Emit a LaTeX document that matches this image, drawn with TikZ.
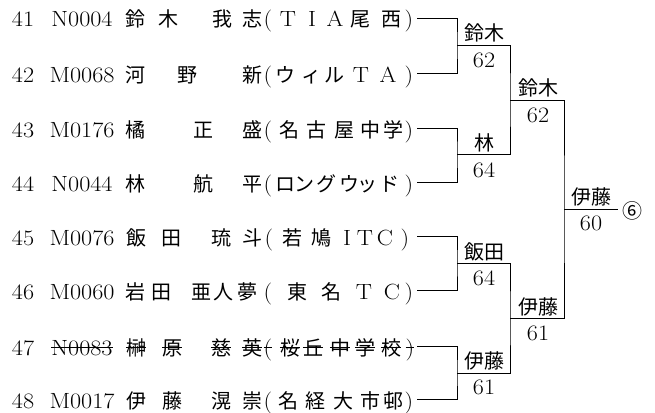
\documentclass[tikz,border=0pt]{standalone}
\usepackage{graphicx}
\usepackage{fontspec}
\newfontfamily\jp{Noto Sans CJK JP}
\newcommand\widenit[1]{\scalebox{1.1}[1]{#1}}
\tikzset{
  t/.style={inner sep=0pt, text height=16pt, text depth=0pt, anchor=center},
  jt/.style={t, font=\fontsize{20}{24}\selectfont\jp},
  lt/.style={t, font=\fontsize{22}{24}\selectfont},
  br/.style={line width=0.9pt},
  strk/.style={line width=0.8pt}
}
\newcommand\jrow[2]{\foreach \xx/\cc in {#2}{\node[jt] (j\xx-#1) at (\xx,#1) {\cc};}}
\newcommand\lrow[2]{\foreach \xx/\cc in {#2}{\node[lt] (l\xx-#1) at (\xx,#1) {\widenit{\cc}};}}
\begin{document}
\begin{tikzpicture}[x=1pt,y=-1pt]
\fill[white] (0,0) rectangle (655,412);
\useasboundingbox (0,0) rectangle (655,412);
% row 41
\lrow{19}{23/41, 82/N0004, 268/(, 288/T, 312/I, 335/A, 409/)}
\jrow{19}{135/鈴, 168/木, 222/我, 252/志, 360/尾, 391/西}
% row 42
\lrow{74}{23/42, 82/M0068, 268/(, 361/T, 388/A, 409/)}
\jrow{74}{135/河, 187/野, 252/新, 285/ウ, 311/ィ, 334/ル}
% row 43
\lrow{129}{23/43, 82/M0176, 268/(, 409/)}
\jrow{129}{135/橘, 203/正, 252/盛, 289/名, 316/古, 344/屋, 370/中, 393/学}
% row 44
\lrow{183}{23/44, 82/N0044, 268/(, 409/)}
\jrow{183}{135/林, 203/航, 252/平, 285/ロ, 304/ン, 326/グ, 349/ウ, 367/ッ, 389/ド}
% row 45
\lrow{237}{23/45, 82/M0076, 269/(, 347/I, 365/T, 385/C, 405/)}
\jrow{237}{136/飯, 171/田, 221/琉, 252/斗, 292/若, 321/鳩}
% row 46
\lrow{291}{23/46, 82/M0060, 268/(, 364/T, 392/C, 409/)}
\jrow{291}{135/岩, 161/田, 201/亜, 223/人, 247/夢, 297/東, 331/名}
% row 47
\lrow{347}{23/47, 82/N0083, 268/(, 410/)}
\jrow{347}{136/榊, 172/原, 221/慈, 252/英, 290/桜, 313/丘, 340/中, 365/学, 391/校}
% row 48
\lrow{400}{23/48, 82/M0017, 268/(, 409/)}
\jrow{400}{136/伊, 172/藤, 221/滉, 252/崇, 288/名, 315/経, 343/大, 370/市, 393/邨}
% strike-through row 47
\foreach \n in {l82-347, l268-347, l410-347, j136-347, j172-347, j221-347, j252-347, j290-347, j313-347, j340-347, j365-347, j391-347}
  \draw[strk] (\n.west) -- (\n.east);
% bracket coordinates
\coordinate (e41) at (417,18);
\coordinate (e42) at (417,73);
\coordinate (e43) at (417,128);
\coordinate (e44) at (417,182);
\coordinate (e45) at (417,236);
\coordinate (e46) at (417,290);
\coordinate (e47) at (417,346);
\coordinate (e48) at (417,399);
\coordinate (m1) at (457,45);
\coordinate (m2) at (457,154);
\coordinate (m3) at (457,263);
\coordinate (m4) at (457,373);
\coordinate (s1) at (510,100);
\coordinate (s2) at (510,318);
\coordinate (fn) at (564,209);
\coordinate (fe) at (618,209);
\draw[br] (e41) -| (m1) |- (e42);
\draw[br] (e43) -| (m2) |- (e44);
\draw[br] (e45) -| (m3) |- (e46);
\draw[br] (e47) -| (m4) |- (e48);
\draw[br] (m1) -| (s1) |- (m2);
\draw[br] (m3) -| (s2) |- (m4);
\draw[br] (s1) -| (fn) |- (s2);
\draw[br] (fn) -- (fe);
% labels
\node[jt] (w1) at (484,33) {鈴木};
\node[lt] (p1) at (484,59) {\widenit{62}};
\node[jt] (w2) at (484,142) {林};
\node[lt] (p2) at (484,169) {\widenit{64}};
\node[jt] (w3) at (484,251) {飯田};
\node[lt] (p3) at (484,277) {\widenit{64}};
\node[jt] (w4) at (484,360) {伊藤};
\node[lt] (p4) at (484,386) {\widenit{61}};
\node[jt] (w5) at (538,87) {鈴木};
\node[lt] (p5) at (538,114) {\widenit{62}};
\node[jt] (w6) at (538,306) {伊藤};
\node[lt] (p6) at (538,332) {\widenit{61}};
\node[jt] (w7) at (591,196) {伊藤};
\node[lt] (p7) at (591,222) {\widenit{60}};
\node[jt] (rk) at (632,210) {⑥};
\end{tikzpicture}
\end{document}
